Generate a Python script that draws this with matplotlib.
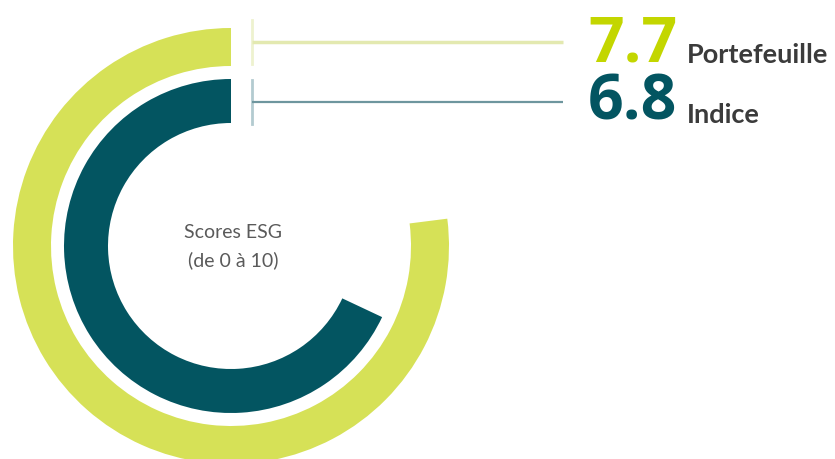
import matplotlib
matplotlib.use('Agg')
import matplotlib.pyplot as plt
from matplotlib.patches import Wedge

# scores ESG (0 a 10)
labels = ['Portefeuille', 'Indice']
scores = [7.7, 6.8]
max_score = 10
ring_colors = ['#d6e157', '#035561']
text_colors = ['#c3d600', '#035561']
line_colors = ['#e3e9b0', '#6e969e']
tick_colors = ['#eef2cf', '#b3cbd0']

W, H = 835, 460
fig = plt.figure(figsize=(W / 100, H / 100), dpi=100)
ax = fig.add_axes([0, 0, 1, 1])
ax.set_xlim(0, W)
ax.set_ylim(0, H)
ax.axis('off')

cx, cy = 231, 213
radii = [218, 167]
widths = [38, 44]

for i in range(len(scores)):
    sweep = scores[i] / max_score * 360
    w = Wedge((cx, cy), radii[i], 90, 90 + sweep, width=widths[i],
              facecolor=ring_colors[i], edgecolor='none')
    ax.add_patch(w)

# leader lines + labels
line_y = [417, 357]
num_base = [399, 340]
lab_base = [397, 337]
for i in range(len(scores)):
    ax.plot([252, 252], [line_y[i] - 22, line_y[i] + 22], color=tick_colors[i], lw=2)
    ax.plot([252, 563], [line_y[i], line_y[i]], color=line_colors[i],
            lw=2.5 if i == 0 else 1.6, solid_capstyle='butt')
    ax.text(588, num_base[i], f'{scores[i]:.1f}', fontsize=45, fontweight='bold',
            family='Open Sans', color=text_colors[i], va='baseline', ha='left')
    ax.text(687, lab_base[i], labels[i], fontsize=19.5, fontweight='bold',
            family='Lato', color='#3b3b3b', va='baseline', ha='left')

ax.text(cx + 2, 222, 'Scores ESG', fontsize=14, family='Lato', color='#5a5a5a',
        ha='center', va='baseline')
ax.text(cx + 2, 194, '(de 0 à 10)', fontsize=14, family='Lato', color='#5a5a5a',
        ha='center', va='baseline')

fig.savefig('out.png', dpi=100)
